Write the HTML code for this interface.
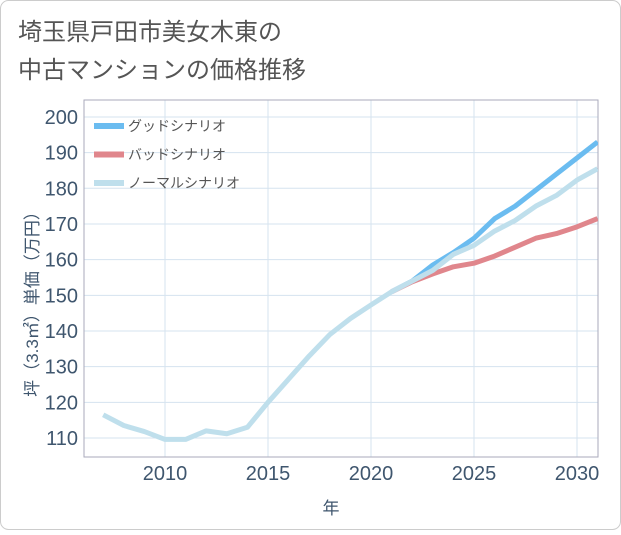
<!DOCTYPE html>
<html><head><meta charset="utf-8"><style>
body{margin:0;background:#fff;}
#c{position:relative;width:621px;height:530px;}
svg text{font-family:"Liberation Sans","Noto Sans CJK JP",sans-serif;}
</style></head><body>
<div id="c">
<svg id="s" width="621" height="530" xmlns="http://www.w3.org/2000/svg">
<rect x="0.5" y="0.5" width="620" height="529" rx="8" fill="#fff" stroke="#ccc"/>
<text x="18" y="40" font-size="24" fill="#555">埼玉県戸田市美女木東の</text>
<text x="18" y="78" font-size="24" fill="#555">中古マンションの価格推移</text>
<g id="grid"></g>
<rect x="84" y="100" width="514" height="357" fill="none" stroke="#aab"/>
<g id="lines"></g>
<g id="legend"></g>
<text transform="translate(38,300) rotate(-90)" text-anchor="middle" font-size="17" fill="#3f566e">坪（3.3㎡）単価（万円）</text>
<text x="331" y="514" text-anchor="middle" font-size="17" fill="#3f566e">年</text>
</svg></div>
<script>
const years=[2007,2008,2009,2010,2011,2012,2013,2014,2015,2016,2017,2018,2019,2020,2021,2022,2023,2024,2025,2026,2027,2028,2029,2030,2031];
const normal=[116.5,113.5,111.8,109.6,109.6,112,111.2,113,120,126.5,133,139,143.5,147.3,151,154,157,161.5,164,168,171,175,178,182.3,185.5];
const goodYears=[2021,2022,2023,2024,2025,2026,2027,2028,2029,2030,2031];
const good=[151,154,158.5,162,166,171.5,175,179.5,184,188.5,193];
const bad=[151,153.8,156,158,159,161,163.5,166,167.3,169.2,171.5];
const xTicks=[2010,2015,2020,2025,2030];
const yTicks=[110,120,130,140,150,160,170,180,190,200];
const X=y=>165+(y-2010)*20.6;
const Y=v=>438-(v-110)*3.567;
const NS="http://www.w3.org/2000/svg";
const grid=document.getElementById('grid'),lines=document.getElementById('lines'),lg=document.getElementById('legend'),svg=document.getElementById('s');
function mk(tag,attrs,parent){const e=document.createElementNS(NS,tag);for(const k in attrs)e.setAttribute(k,attrs[k]);parent.appendChild(e);return e;}
xTicks.forEach(t=>{
 const l=mk('line',{x1:X(t),x2:X(t),y1:100,y2:457,stroke:'#d5e3ef'},grid);
 
 
 const tx=mk('text',{x:X(t),y:480,'text-anchor':'middle','font-size':20,fill:'#3f566e'},svg);
 tx.textContent=t;
 
 
});
yTicks.forEach(t=>{
 const l=mk('line',{x1:84,x2:598,y1:Y(t),y2:Y(t),stroke:'#d5e3ef'},grid);
 
 
 const tx=mk('text',{x:78,y:Y(t)+7,'text-anchor':'end','font-size':20,fill:'#3f566e'},svg);
 tx.textContent=t;
 
 
});
function series(xs,vs,color,name){
 const p=mk('polyline',{points:xs.map((y,i)=>X(y)+','+Y(vs[i])).join(' '),fill:'none',stroke:color,'stroke-width':5,'stroke-linejoin':'round'},lines);
 
 
}
const clip=mk('clipPath',{id:'cp'},svg);mk('rect',{x:84,y:100,width:514,height:357},clip);
lines.setAttribute('clip-path','url(#cp)');
series(goodYears,good,'#6bbcf0','good-scenario-line');
series(goodYears,bad,'#e0868c','bad-scenario-line');
series(years,normal,'#bfdfec','normal-scenario-line');
[['グッドシナリオ','#6bbcf0','legend-good'],['バッドシナリオ','#e0868c','legend-bad'],['ノーマルシナリオ','#bfdfec','legend-normal']].forEach((d,i)=>{
 const y=126+i*28.5;
 const g=mk('g',{},lg);
 
 
 mk('rect',{x:94,y:y-3,width:30,height:6,fill:d[1]},g);
 const t=mk('text',{x:128,y:y+5,'font-size':14,fill:'#555'},g);t.textContent=d[0];
});
</script>
</body></html>
